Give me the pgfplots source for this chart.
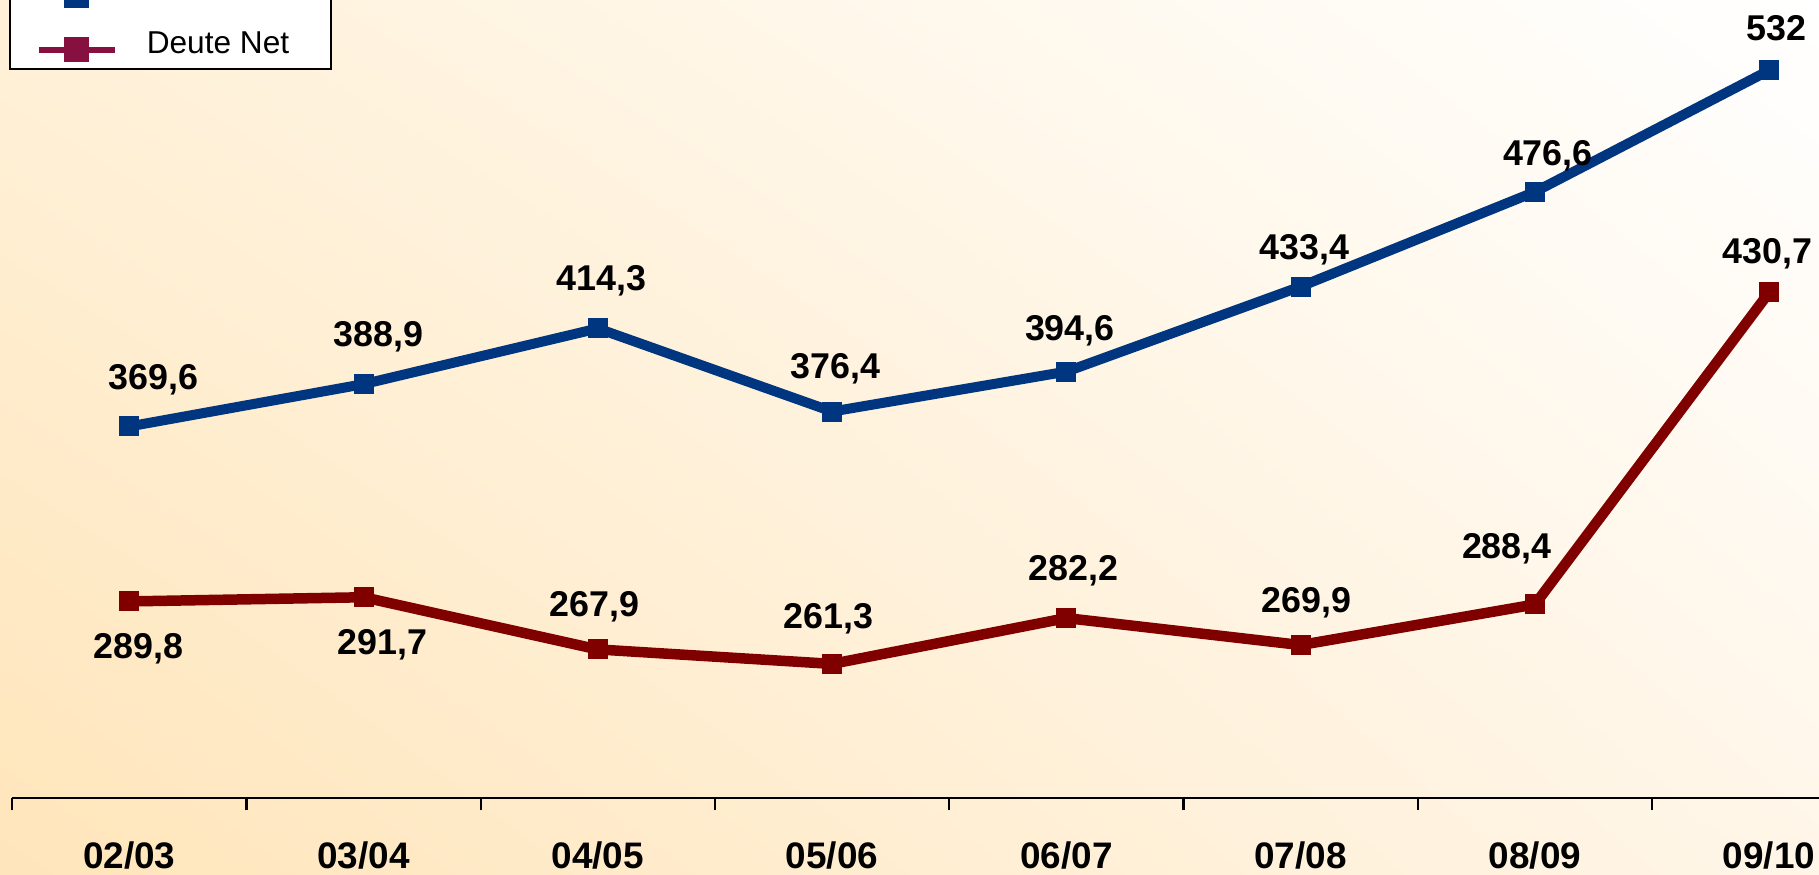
\documentclass[border=0pt]{standalone}
\usepackage{pgfplots}
\pgfplotsset{compat=1.18}
\usetikzlibrary{shadings}
\usepackage{fontspec}
\setmainfont{Liberation Sans}
\definecolor{blueC}{RGB}{0,54,128}
\definecolor{redC}{RGB}{128,0,0}
\definecolor{legred}{RGB}{134,16,64}
\definecolor{bgLL}{RGB}{255,229,186}
\definecolor{bgLR}{RGB}{255,246,232}
\definecolor{bgUL}{RGB}{255,241,217}
\definecolor{bgUR}{RGB}{255,255,255}
\newcommand{\lab}{\fontsize{10.2}{12}\selectfont\bfseries}
\begin{document}
\begin{tikzpicture}
\useasboundingbox (0,0) rectangle (18.19cm,8.74cm);
\clip (0,0) rectangle (18.19cm,8.74cm);
\shade[lower left=bgLL, lower right=bgLR, upper left=bgUL, upper right=bgUR] (0,0) rectangle (18.19cm,8.74cm);
\begin{axis}[
  at={(0.122cm,0.757cm)}, anchor=south west,
  scale only axis, width=18.068cm, height=7.983cm,
  xmin=-0.5, xmax=7.213, ymin=200, ymax=564.1,
  clip=false,
  axis x line=bottom, axis y line=none,
  x axis line style={-, line width=0.6pt, black},
  xtick={0,...,7},
  xticklabels={02/03,03/04,04/05,05/06,06/07,07/08,08/09,09/10},
  major tick length=0pt,
  minor xtick={-0.5,0.5,...,7.5},
  minor tick length=0.12cm,
  tick align=outside,
  minor tick style={line width=0.6pt, black},
  xticklabel style={font=\fontsize{10.5}{12}\selectfont\bfseries, anchor=base, yshift=-0.70cm},
  legend style={at={(axis description cs:-0.0019,0.9121)}, anchor=south west,
    draw=black, line width=0.2mm, fill=white,
    font=\fontsize{9}{11}\selectfont,
    inner xsep=0.26cm, inner ysep=0.03cm, row sep=0.135cm, column sep=0.22cm},
  legend cell align=left,
  legend image code/.code={%
    \draw[#1, line width=0.6mm] (0cm,-0.04cm) -- (0.76cm,-0.04cm);
    \fill[#1] (0.265cm,-0.155cm) rectangle (0.495cm,0.075cm);},
]
\addplot[blueC, line width=1.0mm, mark=square*, mark size=0.95mm,
  mark options={line width=0pt, fill=blueC, draw=blueC}, forget plot]
  coordinates {(0,369.6) (1,388.9) (2,414.3) (3,376.4) (4,394.6) (5,433.4) (6,476.6) (7,532)};
\addplot[redC, line width=1.05mm, mark=square*, mark size=0.95mm,
  mark options={line width=0pt, fill=redC, draw=redC}, forget plot]
  coordinates {(0,289.8) (1,291.7) (2,267.9) (3,261.3) (4,282.2) (5,269.9) (6,288.4) (7,430.7)};
\addlegendimage{color=blueC}
\addlegendentry{Deute Brut}
\addlegendimage{color=legred}
\addlegendentry{Deute Net}
% labels for blue series
\node[font=\lab, anchor=base, xshift=0.24cm, yshift=0.37cm] at (axis cs:0,369.6) {369,6};
\node[font=\lab, anchor=base, xshift=0.15cm, yshift=0.38cm] at (axis cs:1,388.9) {388,9};
\node[font=\lab, anchor=base, xshift=0.035cm, yshift=0.38cm] at (axis cs:2,414.3) {414,3};
\node[font=\lab, anchor=base, xshift=0.035cm, yshift=0.33cm] at (axis cs:3,376.4) {376,4};
\node[font=\lab, anchor=base, xshift=0.035cm, yshift=0.31cm] at (axis cs:4,394.6) {394,6};
\node[font=\lab, anchor=base, xshift=0.035cm, yshift=0.275cm] at (axis cs:5,433.4) {433,4};
\node[font=\lab, anchor=base, xshift=0.13cm, yshift=0.265cm] at (axis cs:6,476.6) {476,6};
\node[font=\lab, anchor=base, xshift=0.07cm, yshift=0.30cm] at (axis cs:7,532) {532};
% labels for red series
\node[font=\lab, anchor=base, xshift=0.09cm, yshift=-0.57cm] at (axis cs:0,289.8) {289,8};
\node[font=\lab, anchor=base, xshift=0.19cm, yshift=-0.57cm] at (axis cs:1,291.7) {291,7};
\node[font=\lab, anchor=base, xshift=-0.035cm, yshift=0.33cm] at (axis cs:2,267.9) {267,9};
\node[font=\lab, anchor=base, xshift=-0.035cm, yshift=0.355cm] at (axis cs:3,261.3) {261,3};
\node[font=\lab, anchor=base, xshift=0.07cm, yshift=0.38cm] at (axis cs:4,282.2) {282,2};
\node[font=\lab, anchor=base, xshift=0.055cm, yshift=0.325cm] at (axis cs:5,269.9) {269,9};
\node[font=\lab, anchor=base, xshift=-0.28cm, yshift=0.46cm] at (axis cs:6,288.4) {288,4};
\node[font=\lab, anchor=base, xshift=-0.015cm, yshift=0.29cm] at (axis cs:7,430.7) {430,7};
\end{axis}
\end{tikzpicture}
\end{document}
